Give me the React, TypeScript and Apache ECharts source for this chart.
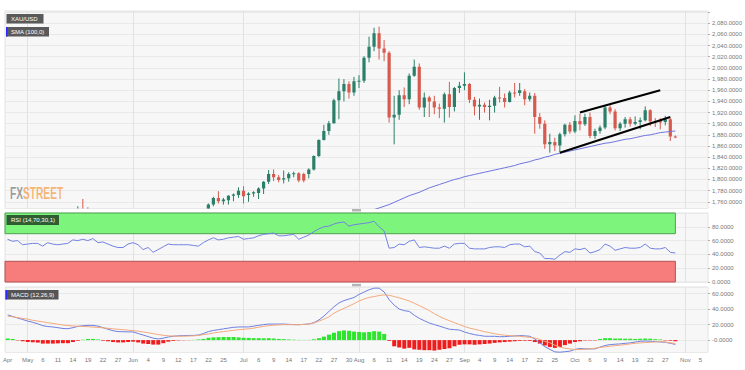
import React, { useEffect, useRef } from 'react';
import * as echarts from 'echarts';

// Trading days (weekdays) shown on the axis
const aprDays = [27, 28, 29, 30];
const mayDays = [1, 4, 5, 6, 7, 8, 11, 12, 13, 14, 15, 18, 19, 20, 21, 22, 25, 26, 27, 28, 29];
const junDays = [1, 2, 3, 4, 5, 8, 9, 10, 11, 12, 15, 16, 17, 18, 19, 22, 23, 24, 25, 26, 29, 30];
const julDays = [1, 2, 3, 6, 7, 8, 9, 10, 13, 14, 15, 16, 17, 20, 21, 22, 23, 24, 27, 28, 29, 30, 31];
const augDays = [3, 4, 5, 6, 7, 10, 11, 12, 13, 14, 17, 18, 19, 20, 21, 24, 25, 26, 27, 28, 31];
const sepDays = [1, 2, 3, 4, 7, 8, 9, 10, 11, 14, 15, 16, 17, 18, 21, 22, 23, 24, 25, 28, 29, 30];
const octDays = [1, 2, 5, 6, 7, 8, 9, 12, 13, 14, 15, 16, 19, 20, 21, 22, 23, 26, 27, 28, 29, 30];
const novDays = [2, 3, 4, 5, 6];

const categories: string[] = [
  ...aprDays.map((d) => `Apr ${d}`),
  ...mayDays.map((d) => `May ${d}`),
  ...junDays.map((d) => `Jun ${d}`),
  ...julDays.map((d) => `Jul ${d}`),
  ...augDays.map((d) => `Aug ${d}`),
  ...sepDays.map((d) => `Sep ${d}`),
  ...octDays.map((d) => `Oct ${d}`),
  ...novDays.map((d) => `Nov ${d}`),
];

// Tick labels on the date axis
const tickLabels = [
  'Apr 27', 'May 1', 'May 6', 'May 11', 'May 14', 'May 19', 'May 22', 'May 27',
  'Jun 1', 'Jun 4', 'Jun 9', 'Jun 12', 'Jun 17', 'Jun 22', 'Jun 25',
  'Jul 1', 'Jul 6', 'Jul 9', 'Jul 14', 'Jul 17', 'Jul 22', 'Jul 27', 'Jul 30',
  'Aug 3', 'Aug 6', 'Aug 11', 'Aug 14', 'Aug 19', 'Aug 24', 'Aug 27',
  'Sep 1', 'Sep 4', 'Sep 9', 'Sep 14', 'Sep 17', 'Sep 22', 'Sep 25',
  'Oct 1', 'Oct 6', 'Oct 9', 'Oct 14', 'Oct 19', 'Oct 22', 'Oct 27',
  'Nov 2', 'Nov 5',
];
const monthTicks = ['Apr 27', 'May 1', 'Jun 1', 'Jul 1', 'Aug 3', 'Sep 1', 'Oct 1', 'Nov 2'];
const monthLines = ['May 1', 'Jun 1', 'Jul 1', 'Aug 3', 'Sep 1', 'Oct 1', 'Nov 2'];

// XAU/USD daily candles: [date, open, close, low, high]
const candles: [string, number, number, number, number][] = [
  ['May 15', 1731, 1743, 1722, 1752],
  ['May 18', 1743, 1733, 1722, 1765],
  ['May 19', 1733, 1745, 1728, 1750],
  ['Jun 22', 1743, 1755, 1739, 1757],
  ['Jun 23', 1755, 1767, 1752, 1769],
  ['Jun 24', 1767, 1761, 1757, 1779],
  ['Jun 25', 1761, 1764, 1755, 1767],
  ['Jun 26', 1763, 1771, 1755, 1772],
  ['Jun 29', 1771, 1773, 1761, 1775],
  ['Jun 30', 1772, 1780, 1767, 1786],
  ['Jul 1', 1780, 1770, 1757, 1788],
  ['Jul 2', 1772, 1775, 1760, 1777],
  ['Jul 3', 1775, 1777, 1769, 1779],
  ['Jul 6', 1776, 1784, 1765, 1786],
  ['Jul 7', 1784, 1796, 1774, 1797],
  ['Jul 8', 1796, 1810, 1792, 1817],
  ['Jul 9', 1810, 1804, 1797, 1818],
  ['Jul 10', 1804, 1799, 1795, 1808],
  ['Jul 13', 1800, 1802, 1793, 1816],
  ['Jul 14', 1802, 1810, 1796, 1813],
  ['Jul 15', 1810, 1811, 1804, 1814],
  ['Jul 16', 1811, 1798, 1795, 1813],
  ['Jul 17', 1810, 1798, 1795, 1812],
  ['Jul 20', 1810, 1818, 1802, 1820],
  ['Jul 21', 1818, 1842, 1816, 1843],
  ['Jul 22', 1842, 1871, 1840, 1872],
  ['Jul 23', 1871, 1887, 1870, 1898],
  ['Jul 24', 1887, 1901, 1880, 1905],
  ['Jul 27', 1901, 1942, 1900, 1945],
  ['Jul 28', 1942, 1958, 1908, 1981],
  ['Jul 29', 1958, 1971, 1940, 1980],
  ['Jul 30', 1971, 1956, 1945, 1976],
  ['Jul 31', 1956, 1976, 1950, 1984],
  ['Aug 3', 1976, 1977, 1964, 1987],
  ['Aug 4', 1977, 2018, 1973, 2021],
  ['Aug 5', 2018, 2038, 2010, 2056],
  ['Aug 6', 2038, 2062, 2030, 2072],
  ['Aug 7', 2062, 2035, 2015, 2074],
  ['Aug 10', 2035, 2027, 2012, 2050],
  ['Aug 11', 2027, 1911, 1902, 2030],
  ['Aug 12', 1911, 1916, 1863, 1950],
  ['Aug 13', 1916, 1951, 1907, 1960],
  ['Aug 14', 1951, 1944, 1930, 1965],
  ['Aug 17', 1944, 1986, 1935, 1990],
  ['Aug 18', 1986, 2002, 1984, 2015],
  ['Aug 19', 2002, 1929, 1925, 2008],
  ['Aug 20', 1929, 1947, 1912, 1956],
  ['Aug 21', 1947, 1940, 1912, 1950],
  ['Aug 24', 1940, 1929, 1917, 1950],
  ['Aug 25', 1929, 1927, 1910, 1936],
  ['Aug 26', 1927, 1953, 1902, 1956],
  ['Aug 27', 1953, 1930, 1911, 1975],
  ['Aug 28', 1930, 1964, 1922, 1966],
  ['Aug 31', 1964, 1968, 1955, 1975],
  ['Sep 1', 1968, 1971, 1960, 1992],
  ['Sep 2', 1971, 1943, 1937, 1973],
  ['Sep 3', 1943, 1931, 1915, 1948],
  ['Sep 4', 1931, 1934, 1907, 1945],
  ['Sep 7', 1934, 1930, 1920, 1938],
  ['Sep 8', 1930, 1932, 1906, 1943],
  ['Sep 9', 1932, 1947, 1920, 1950],
  ['Sep 10', 1947, 1946, 1938, 1966],
  ['Sep 11', 1946, 1939, 1929, 1954],
  ['Sep 14', 1939, 1956, 1938, 1959],
  ['Sep 15', 1956, 1955, 1947, 1973],
  ['Sep 16', 1955, 1960, 1950, 1973],
  ['Sep 17', 1958, 1944, 1933, 1962],
  ['Sep 18', 1944, 1950, 1940, 1956],
  ['Sep 21', 1950, 1912, 1882, 1955],
  ['Sep 22', 1912, 1900, 1891, 1919],
  ['Sep 23', 1900, 1863, 1855, 1906],
  ['Sep 24', 1863, 1867, 1848, 1882],
  ['Sep 25', 1867, 1861, 1851, 1875],
  ['Sep 28', 1861, 1881, 1849, 1884],
  ['Sep 29', 1881, 1898, 1877, 1900],
  ['Sep 30', 1898, 1886, 1882, 1903],
  ['Oct 1', 1886, 1905, 1883, 1915],
  ['Oct 2', 1905, 1899, 1888, 1918],
  ['Oct 5', 1899, 1912, 1896, 1918],
  ['Oct 6', 1912, 1878, 1874, 1920],
  ['Oct 7', 1878, 1887, 1873, 1891],
  ['Oct 8', 1887, 1893, 1882, 1897],
  ['Oct 9', 1893, 1929, 1890, 1933],
  ['Oct 12', 1929, 1922, 1917, 1933],
  ['Oct 13', 1922, 1892, 1888, 1926],
  ['Oct 14', 1892, 1900, 1887, 1903],
  ['Oct 15', 1900, 1908, 1893, 1912],
  ['Oct 16', 1908, 1900, 1895, 1912],
  ['Oct 19', 1900, 1903, 1897, 1913],
  ['Oct 20', 1903, 1906, 1890, 1911],
  ['Oct 21', 1906, 1924, 1904, 1931],
  ['Oct 22', 1924, 1904, 1896, 1926],
  ['Oct 23', 1904, 1903, 1894, 1910],
  ['Oct 26', 1905, 1902, 1890, 1910],
  ['Oct 27', 1903, 1908, 1897, 1914],
  ['Oct 28', 1908, 1877, 1869, 1910],
  ['Oct 29', 1877, 1876, 1874, 1879],
];

// SMA(100) from Aug 3 onwards
const smaStart = 'Aug 3';
const smaValues = [
  1737, 1740, 1743, 1746, 1749, 1752, 1755, 1759, 1763, 1767,
  1771, 1774, 1777, 1781, 1785, 1788, 1791, 1794, 1797, 1800,
  1802, 1805, 1807, 1809, 1811, 1813, 1815, 1817, 1819, 1821,
  1823, 1825, 1828, 1830, 1832, 1835, 1837, 1840, 1842, 1845,
  1847, 1849, 1851, 1853, 1855, 1857, 1859, 1861, 1863, 1865,
  1866, 1868, 1870, 1872, 1873, 1875, 1877, 1879, 1880, 1882,
  1884, 1885, 1886, 1887,
];

// Channel trend lines: [[date, price], [date, price]]
const trendLines: [[string, number], [string, number]][] = [
  [['Oct 2', 1920], ['Oct 26', 1960]],
  [['Sep 28', 1848], ['Oct 28', 1912]],
];

// RSI(14) from Apr 27
const rsiValues = [
  62, 59, 60, 54, 55, 56, 56, 52, 57, 55,
  54, 55, 56, 61, 60, 62, 60, 63, 57, 58,
  55, 52, 50, 50, 55, 57, 54, 47, 50, 43,
  47, 51, 55, 54, 54, 54, 54, 53, 52, 57,
  61, 64, 61, 62, 64, 65, 66, 62, 63, 64,
  67, 69, 70, 71, 67, 67, 68, 69, 62, 65,
  68, 73, 77, 80, 81, 84, 86, 87, 81, 83,
  84, 85, 86, 88, 80, 74, 49, 50, 55, 54,
  59, 61, 50, 51, 50, 49, 49, 52, 49, 55,
  56, 56, 49, 48, 48, 48, 50, 51, 51, 50,
  54, 55, 55, 51, 52, 44, 42, 34, 34, 33,
  39, 44, 43, 48, 47, 49, 42, 44, 47, 55,
  52, 46, 48, 50, 49, 49, 50, 55, 49, 48,
  48, 50, 43, 42,
];
const rsiUpper = 70;
const rsiLower = 30;
const lastDataDay = 'Oct 29';

// MACD(12,26,9) from Apr 27
const macdValues = [
  32.5, 30.5, 28.5, 26.5, 24.5, 22.9, 21, 18.6, 17.5, 16.9,
  16, 15, 14.7, 16, 17.7, 18.5, 19, 19, 18, 16,
  14, 12, 11, 10.8, 10.6, 10.5, 8.5, 6.5, 4.5, 2.5,
  1.5, 2.5, 4, 5, 5.5, 5.8, 6, 6, 6.5, 8.5,
  11, 12.5, 13.5, 14.5, 15.5, 16.5, 16.9, 17, 17, 18,
  19, 20, 20.7, 20.7, 20.7, 20.7, 20.3, 20, 19.9, 20.3,
  20.7, 22.5, 26, 31, 37, 43, 48, 51, 53, 55,
  59, 62, 65, 67, 67, 62, 52, 45, 40, 38,
  37, 32, 28, 25, 22, 20, 18, 16, 14, 13.5,
  13, 10.5, 8.5, 7, 6, 5, 4.9, 4.9, 4.3, 4.5,
  5, 5.4, 5.8, 5.5, 4.9, 1.5, -3.5, -8.5, -12, -15.2,
  -15.6, -15, -14.3, -12, -10.9, -11.3, -11.3, -11.3, -9, -7,
  -5.8, -5.3, -4.9, -4.2, -3.6, -2.5, -1.5, -1.2, -1.5, -1.9,
  -2.4, -2.8, -4.2, -5.5,
];
const signalValues = [
  31, 30, 29, 28, 27, 25.5, 24.5, 23.5, 22.5, 21.5,
  20.5, 19.5, 18.8, 18.3, 17.9, 17.6, 17.3, 16.8, 16.4, 15.8,
  15.2, 14.5, 14, 13.4, 12.8, 12.3, 11.5, 10.5, 9.5, 8.3,
  7.2, 6.2, 5.5, 5.2, 5, 5, 5.2, 5.5, 6, 7,
  8, 9.2, 10.2, 11, 11.8, 12.6, 13.4, 14, 14.5, 15.5,
  16.5, 17.8, 18.6, 19.2, 19.6, 19.9, 19.9, 19.9, 19.9, 20.2,
  20.7, 22, 24.5, 27, 30, 34.8, 38, 41, 44, 47,
  50.5, 53, 55, 56.2, 57.5, 58.3, 57.8, 56.2, 54.5, 52.5,
  50.5, 47.5, 44.5, 41.5, 38, 34, 30.5, 27.5, 25, 22.5,
  20, 17.5, 15.5, 14, 12.5, 10.8, 9.5, 8.2, 7.1, 6.3,
  5.8, 5.3, 4.9, 4.2, 3.5, 2.8, 0.8, -1.5, -3.5, -6.6,
  -9, -10.5, -11.3, -12.2, -12.2, -11.8, -11.3, -10.5, -9.5, -8.8,
  -7.9, -7.2, -6.6, -5.8, -4.9, -4.2, -3.6, -3.2, -2.8, -2.4,
  -1.9, -2.5, -3.5, -4.5,
];
const histValues = [
  2, 1.5, -0.5, -1.5, -2.5, -2.8, -3.2, -4.5, -4.5, -4.5,
  -4.2, -4, -4, -2.5, -0.8, 0.5, 1.5, 1.5, 0.8, -0.8,
  -1.5, -2.5, -3, -3, -2.5, -2, -3, -4.5, -5, -5.8,
  -5.8, -4, -2, -1, -0.5, -0.3, -0.2, 0.3, 0.8, 1.5,
  3, 3.5, 3.8, 4, 4, 4, 3.5, 3, 2.8, 2.5,
  2.5, 2.3, 2.5, 2, 1.5, 1.2, 0.8, 0.5, 0.3, 0.2,
  0.3, 1, 2.5, 4.5, 7, 9.5, 11.5, 12.5, 12, 11,
  10.5, 10, 10.5, 11.5, 11, 8, -1, -8, -9.5, -11,
  -10, -12, -12.5, -13, -13, -13.5, -12.5, -11.5, -10.5, -8,
  -6, -5.5, -5.5, -6, -5.5, -5, -4.5, -3.6, -3, -2.5,
  -2, -1.5, -1, -0.8, -1, -2.5, -4.5, -7, -9, -10,
  -9, -6.5, -4.5, -2.5, -1.5, -0.5, -0.5, -0.5, 1.5, 2.5,
  2.5, 2, 2, 1.8, 1.8, 1.5, 1.8, 2, 1.8, 1.2,
  0.8, -0.5, -0.8, -1.5,
];

const UP = '#2a7f68';
const DOWN = '#d65a4d';
const FONT = '"Liberation Sans", Arial, sans-serif';

const fmt4 = (v: number) =>
  v.toLocaleString('en-US', { minimumFractionDigits: 4, maximumFractionDigits: 4 });

function buildOption(): any {
  const tickSet = new Set(tickLabels);
  const monthTickSet = new Set(monthTicks);
  const monthLineSet = new Set(monthLines);
  const smaIdx = categories.indexOf(smaStart);
  const smaData = categories.map((_, i) =>
    i >= smaIdx && i - smaIdx < smaValues.length ? smaValues[i - smaIdx] : '-'
  );
  const candleData = candles.map(([d, o, c, l, h]) => [categories.indexOf(d), o, c, l, h]);

  const gridCommon = {
    left: 5,
    right: 37,
    show: true,
    backgroundColor: '#f7f7f7',
    borderColor: '#e3e3e3',
    borderWidth: 1,
  };

  const xAxisBase = (gridIndex: number, showLabels: boolean) => ({
    type: 'category',
    gridIndex,
    data: categories,
    boundaryGap: true,
    axisLine: { show: false },
    axisTick: { show: false, alignWithLabel: true },
    axisLabel: showLabels
      ? {
          show: true,
          interval: (_i: number, v: string) => tickSet.has(v),
          formatter: (v: string) => (monthTickSet.has(v) ? v.split(' ')[0] : v.split(' ')[1]),
          fontSize: 6,
          fontFamily: FONT,
          color: '#777',
          margin: 4,
        }
      : { show: false },
    splitLine: {
      show: true,
      alignWithLabel: true,
      interval: (_i: number, v: string) => monthLineSet.has(v),
      lineStyle: { color: '#e2e2e2', width: 1 },
    },
  });

  const yLabel = {
    fontSize: 6,
    fontFamily: FONT,
    color: '#777',
    margin: 4,
    showMinLabel: false,
    showMaxLabel: false,
  };
  const yTick = { show: true, length: 2, lineStyle: { color: '#b0b0b0' } };

  return {
    animation: false,
    backgroundColor: '#ffffff',
    grid: [
      { ...gridCommon, top: 11, height: 197.5 },
      { ...gridCommon, top: 213, height: 69 },
      { ...gridCommon, top: 287, height: 65.5 },
    ],
    xAxis: [xAxisBase(0, false), xAxisBase(1, false), xAxisBase(2, true)],
    yAxis: [
      {
        type: 'value',
        gridIndex: 0,
        position: 'right',
        min: 1748,
        max: 2102,
        splitNumber: 18,
        axisLine: { show: false },
        axisTick: yTick,
        axisLabel: {
          ...yLabel,
          formatter: (v: number) => (v < 1755 || v > 2090 ? '' : fmt4(v)),
        },
        splitLine: { lineStyle: { color: '#e9e9e9' } },
      },
      {
        type: 'value',
        gridIndex: 1,
        position: 'right',
        min: 0,
        max: 100,
        interval: 20,
        axisLine: { show: false },
        axisTick: yTick,
        axisLabel: { ...yLabel, showMinLabel: true, formatter: (v: number) => (v >= 100 ? '' : fmt4(v)) },
        splitLine: { lineStyle: { color: '#e9e9e9' } },
      },
      {
        type: 'value',
        gridIndex: 2,
        position: 'right',
        min: -16,
        max: 68.5,
        splitNumber: 4,
        axisLine: { show: false },
        axisTick: yTick,
        axisLabel: {
          ...yLabel,
          formatter: (v: number) => {
            if (Math.abs(v) < 1e-9) return '-0.0000';
            return Math.abs(v % 20) > 1e-6 ? '' : fmt4(v);
          },
        },
        splitLine: { lineStyle: { color: '#e9e9e9' } },
      },
    ],
    series: [
      {
        name: 'XAU/USD',
        type: 'custom',
        xAxisIndex: 0,
        yAxisIndex: 0,
        clip: true,
        z: 2,
        data: candleData,
        encode: { x: 0, y: [1, 2, 3, 4] },
        renderItem: (_p: any, api: any) => {
          const idx = api.value(0);
          const o = api.value(1);
          const c = api.value(2);
          const l = api.value(3);
          const h = api.value(4);
          const pO = api.coord([idx, o]);
          const yC = api.coord([idx, c])[1];
          const yL = api.coord([idx, l])[1];
          const yH = api.coord([idx, h])[1];
          const x = pO[0];
          const col = c >= o ? UP : DOWN;
          const top = Math.min(pO[1], yC);
          const bh = Math.max(1, Math.abs(pO[1] - yC));
          return {
            type: 'group',
            children: [
              { type: 'line', shape: { x1: x, y1: yH, x2: x, y2: yL }, style: { stroke: col, lineWidth: 1 } },
              { type: 'rect', shape: { x: x - 1.6, y: top, width: 3.2, height: bh }, style: { fill: col } },
            ],
          };
        },
      },
      {
        name: 'SMA (100,0)',
        type: 'line',
        xAxisIndex: 0,
        yAxisIndex: 0,
        data: smaData,
        symbol: 'none',
        z: 3,
        lineStyle: { color: '#6f74de', width: 1 },
        markLine: {
          silent: true,
          symbol: ['none', 'none'],
          label: { show: false },
          lineStyle: { color: '#000', width: 2, type: 'solid' },
          data: trendLines.map(([a, b]) => [{ coord: a }, { coord: b }]),
        },
      },
      {
        name: 'RSI',
        type: 'line',
        xAxisIndex: 1,
        yAxisIndex: 1,
        data: rsiValues,
        symbol: 'none',
        z: 3,
        lineStyle: { color: '#7282e0', width: 1 },
        markArea: {
          silent: true,
          data: [
            [
              { yAxis: rsiUpper, itemStyle: { color: '#7df57d', borderColor: '#4fa04f', borderWidth: 1 } },
              { xAxis: lastDataDay, yAxis: 100 },
            ],
            [
              { yAxis: 0, itemStyle: { color: '#f77c7c', borderColor: '#b85050', borderWidth: 1 } },
              { xAxis: lastDataDay, yAxis: rsiLower },
            ],
          ],
        },
      },
      {
        name: 'Histogram',
        type: 'bar',
        xAxisIndex: 2,
        yAxisIndex: 2,
        data: histValues,
        barWidth: '80%',
        itemStyle: {
          color: (p: any) => (p.value >= 0 ? '#2de52d' : '#ee1c1c'),
        },
      },
      {
        name: 'MACD',
        type: 'line',
        xAxisIndex: 2,
        yAxisIndex: 2,
        data: macdValues,
        symbol: 'none',
        z: 3,
        lineStyle: { color: '#6d7fe0', width: 1 },
      },
      {
        name: 'Signal',
        type: 'line',
        xAxisIndex: 2,
        yAxisIndex: 2,
        data: signalValues,
        symbol: 'none',
        z: 3,
        lineStyle: { color: '#f3a97c', width: 1 },
      },
    ],
    graphic: [
      { type: 'rect', shape: { x: 6.5, y: 14, width: 37, height: 9.5 }, style: { fill: '#5a5a5a' }, z: 10 },
      {
        type: 'text', x: 11, y: 18.9, z: 11,
        style: { text: 'XAU/USD', fill: '#ffffff', fontSize: 6, fontFamily: FONT, verticalAlign: 'middle' },
      },
      { type: 'rect', shape: { x: 6, y: 27, width: 43, height: 9.5 }, style: { fill: '#5a5a5a' }, z: 10 },
      { type: 'rect', shape: { x: 6, y: 27, width: 1.5, height: 9.5 }, style: { fill: '#2a2aff' }, z: 11 },
      {
        type: 'text', x: 11, y: 31.9, z: 11,
        style: { text: 'SMA (100,0)', fill: '#ffffff', fontSize: 6, fontFamily: FONT, verticalAlign: 'middle' },
      },
      { type: 'rect', shape: { x: 6.5, y: 215, width: 52.5, height: 10 }, style: { fill: '#2f5d31' }, z: 10 },
      {
        type: 'text', x: 11, y: 220.2, z: 11,
        style: { text: 'RSI (14,70,30,1)', fill: '#ffffff', fontSize: 6, fontFamily: FONT, verticalAlign: 'middle' },
      },
      { type: 'rect', shape: { x: 5.5, y: 290, width: 53, height: 9.5 }, style: { fill: '#555555' }, z: 10 },
      { type: 'rect', shape: { x: 5.5, y: 290, width: 1.5, height: 9.5 }, style: { fill: '#2a2aff' }, z: 11 },
      {
        type: 'text', x: 11, y: 294.9, z: 11,
        style: { text: 'MACD (12,26,9)', fill: '#ffffff', fontSize: 6, fontFamily: FONT, verticalAlign: 'middle' },
      },
      {
        type: 'text', x: 10, y: 192.5, z: 1, scaleX: 0.6,
        style: { text: 'FX', fill: '#8c8c8c', fontSize: 17, fontWeight: 'bold', fontFamily: FONT, verticalAlign: 'middle', opacity: 0.85 },
      },
      {
        type: 'text', x: 23, y: 192.5, z: 1, scaleX: 0.6,
        style: { text: 'STREET', fill: '#f5a95e', fontSize: 17, fontWeight: 'bold', fontFamily: FONT, verticalAlign: 'middle', opacity: 0.85 },
      },
      { type: 'rect', shape: { x: 352, y: 209, width: 9, height: 2.5 }, style: { fill: '#b5b5b5' }, z: 10 },
      { type: 'rect', shape: { x: 352, y: 283.8, width: 9, height: 2.5 }, style: { fill: '#b5b5b5' }, z: 10 },
    ],
  };
}

export default function App() {
  const ref = useRef<HTMLDivElement>(null);
  useEffect(() => {
    document.body.style.margin = '0';
    if (!ref.current) return;
    const chart = echarts.init(ref.current, null, { renderer: 'svg' });
    chart.setOption(buildOption());
    return () => chart.dispose();
  }, []);
  return <div ref={ref} style={{ width: 745, height: 370 }} />;
}
